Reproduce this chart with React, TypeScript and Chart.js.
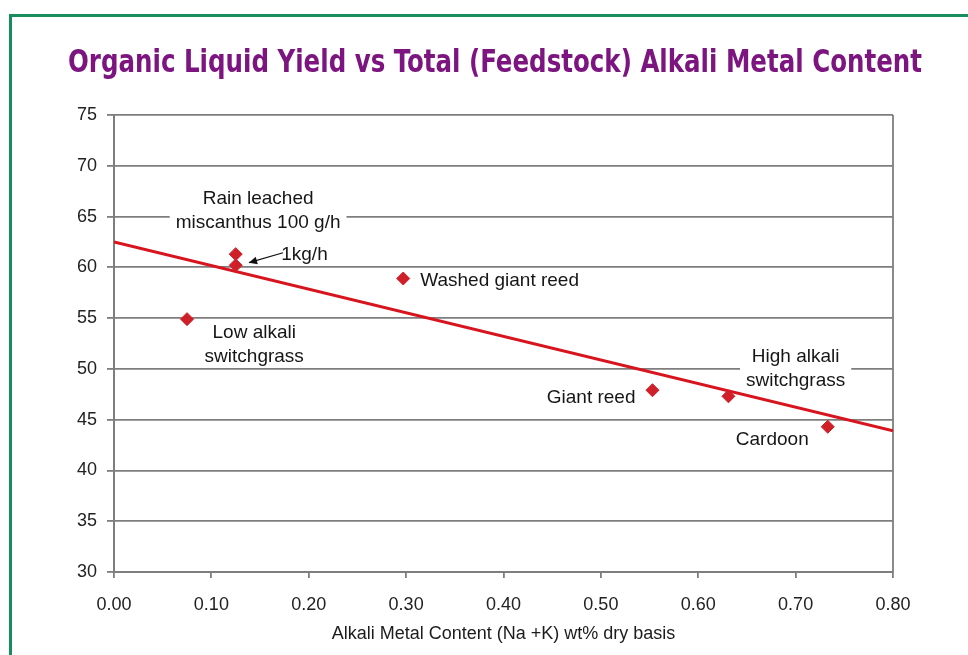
import React, { useEffect, useRef } from "react";
import { Chart, registerables } from "chart.js";

Chart.register(...registerables);

// ---- data ----
const pointX = [0.125, 0.125, 0.297, 0.075, 0.553, 0.631, 0.733];
const pointY = [61.3, 60.2, 58.9, 54.9, 47.9, 47.3, 44.3];

const trendX = [0, 0.8];
const trendY = [62.5, 43.9];

const labelTexts = [
  ["Rain leached", "miscanthus 100 g/h"],
  ["1kg/h"],
  ["Washed giant reed"],
  ["Low alkali", "switchgrass"],
  ["Giant reed"],
  ["High alkali", "switchgrass"],
  ["Cardoon"],
];
const labelX = [0.148, 0.1956, 0.396, 0.144, 0.49, 0.7, 0.676];
const labelY = [66.75, 61.25, 58.7, 53.6, 47.2, 51.2, 43.0];

const arrowFromX = 0.1736;
const arrowFromY = 61.44;
const arrowToX = 0.1386;
const arrowToY = 60.46;

const xTicksMin = 0;
const xTicksMax = 0.8;
const xStep = 0.1;
const yTicksMin = 30;
const yTicksMax = 75;
const yStep = 5;

const TITLE = "Organic Liquid Yield vs Total (Feedstock) Alkali Metal Content";
const X_TITLE = "Alkali Metal Content (Na +K) wt% dry basis";

const FONT = '"Liberation Sans", Arial, sans-serif';
const GRID = "#7e7e7e";

const labelPlugin = {
  id: "customLabels",
  beforeDatasetsDraw(chart: any) {
    const { ctx, scales, chartArea } = chart;
    const x = scales.x;
    const y = scales.y;
    ctx.save();
    // right border of plot
    ctx.strokeStyle = GRID;
    ctx.lineWidth = 1.8;
    ctx.beginPath();
    ctx.moveTo(chartArea.right, chartArea.top);
    ctx.lineTo(chartArea.right, chartArea.bottom);
    ctx.stroke();

    ctx.font = "19px " + FONT;
    ctx.textAlign = "center";
    ctx.textBaseline = "middle";
    const lh = 24;
    labelTexts.forEach((lines, i) => {
      const cx = x.getPixelForValue(labelX[i]);
      const cy = y.getPixelForValue(labelY[i]);
      const w = Math.max(...lines.map((l) => ctx.measureText(l).width));
      ctx.fillStyle = "#ffffff";
      ctx.fillRect(cx - w / 2 - 6, cy - lh / 2 + 2, w + 12, lh * lines.length - 5);
      ctx.fillStyle = "#161616";
      lines.forEach((l, j) => ctx.fillText(l, cx, cy + j * lh));
    });

    // arrow
    const x1 = x.getPixelForValue(arrowFromX);
    const y1 = y.getPixelForValue(arrowFromY);
    const x2 = x.getPixelForValue(arrowToX);
    const y2 = y.getPixelForValue(arrowToY);
    ctx.strokeStyle = "#111";
    ctx.fillStyle = "#111";
    ctx.lineWidth = 1.2;
    ctx.beginPath();
    ctx.moveTo(x1, y1);
    ctx.lineTo(x2, y2);
    ctx.stroke();
    const ang = Math.atan2(y2 - y1, x2 - x1);
    const hl = 9;
    ctx.beginPath();
    ctx.moveTo(x2, y2);
    ctx.lineTo(x2 - hl * Math.cos(ang - 0.45), y2 - hl * Math.sin(ang - 0.45));
    ctx.lineTo(x2 - hl * Math.cos(ang + 0.45), y2 - hl * Math.sin(ang + 0.45));
    ctx.closePath();
    ctx.fill();
    ctx.restore();
  },
  afterDraw(chart: any) {
    const { ctx } = chart;
    ctx.save();
    ctx.font = 'bold 32px "DejaVu Sans Condensed", "DejaVu Sans", sans-serif';
    ctx.fillStyle = "#7c1580";
    ctx.textAlign = "center";
    ctx.textBaseline = "middle";
    const w = ctx.measureText(TITLE).width;
    const target = 854;
    const sx = target / w;
    ctx.translate(495, 64);
    ctx.scale(sx, 1);
    ctx.fillText(TITLE, 0, 0);
    ctx.restore();
  },
};

export default function App() {
  const ref = useRef<HTMLCanvasElement | null>(null);
  useEffect(() => {
    if (!ref.current) return;
    const chart = new Chart(ref.current, {
      type: "scatter",
      data: {
        datasets: [
          {
            type: "scatter",
            data: pointX.map((v, i) => ({ x: v, y: pointY[i] })),
            pointStyle: "rectRot",
            pointRadius: 6.5,
            backgroundColor: "#cf2029",
            borderColor: "#cf2029",
            order: 0,
          },
          {
            type: "line",
            data: trendX.map((v, i) => ({ x: v, y: trendY[i] })),
            borderColor: "#d8141e",
            borderWidth: 3,
            pointRadius: 0,
            fill: false,
            order: 1,
          } as any,
        ],
      },
      options: {
        animation: false,
        responsive: false,
        layout: { padding: { left: 0, right: 75, top: 115, bottom: 0 } },
        plugins: {
          legend: { display: false },
          tooltip: { enabled: false },
          title: { display: false },
        },
        scales: {
          x: {
            type: "linear",
            min: xTicksMin,
            max: xTicksMax,
            afterFit: (s: any) => {
              s.height = 83;
            },
            ticks: {
              stepSize: xStep,
              callback: (v: any) => Number(v).toFixed(2),
              font: { family: FONT, size: 18 },
              color: "#222",
              padding: 16,
            },
            grid: {
              drawOnChartArea: false,
              drawTicks: true,
              tickLength: 6,
              color: GRID,
              lineWidth: 1.8,
            },
            border: { color: GRID, width: 2 },
            title: {
              display: true,
              text: X_TITLE,
              font: { family: FONT, size: 18 },
              color: "#1c1c1c",
              padding: { top: 0, bottom: 10 },
            },
          },
          y: {
            min: yTicksMin,
            max: yTicksMax,
            afterFit: (s: any) => {
              s.width = 114;
            },
            ticks: {
              stepSize: yStep,
              font: { family: FONT, size: 18 },
              color: "#222",
              padding: 10,
            },
            grid: {
              color: GRID,
              lineWidth: 1.8,
              tickLength: 7,
            },
            border: { color: GRID, width: 2 },
          },
        },
      },
      plugins: [labelPlugin],
    });
    return () => chart.destroy();
  }, []);

  return (
    <div style={{ position: "absolute", left: 0, top: 0, width: 968, height: 655, overflow: "hidden", background: "#fff" }}>
      <style>{`body{margin:0}`}</style>
      <div
        style={{
          position: "absolute",
          left: 9,
          top: 14,
          width: 2000,
          height: 2000,
          borderTop: "3px solid #178c5c",
          borderLeft: "3px solid #178c5c",
        }}
      />
      <canvas ref={ref} width={968} height={655} style={{ position: "absolute", left: 0, top: 0 }} />
    </div>
  );
}
